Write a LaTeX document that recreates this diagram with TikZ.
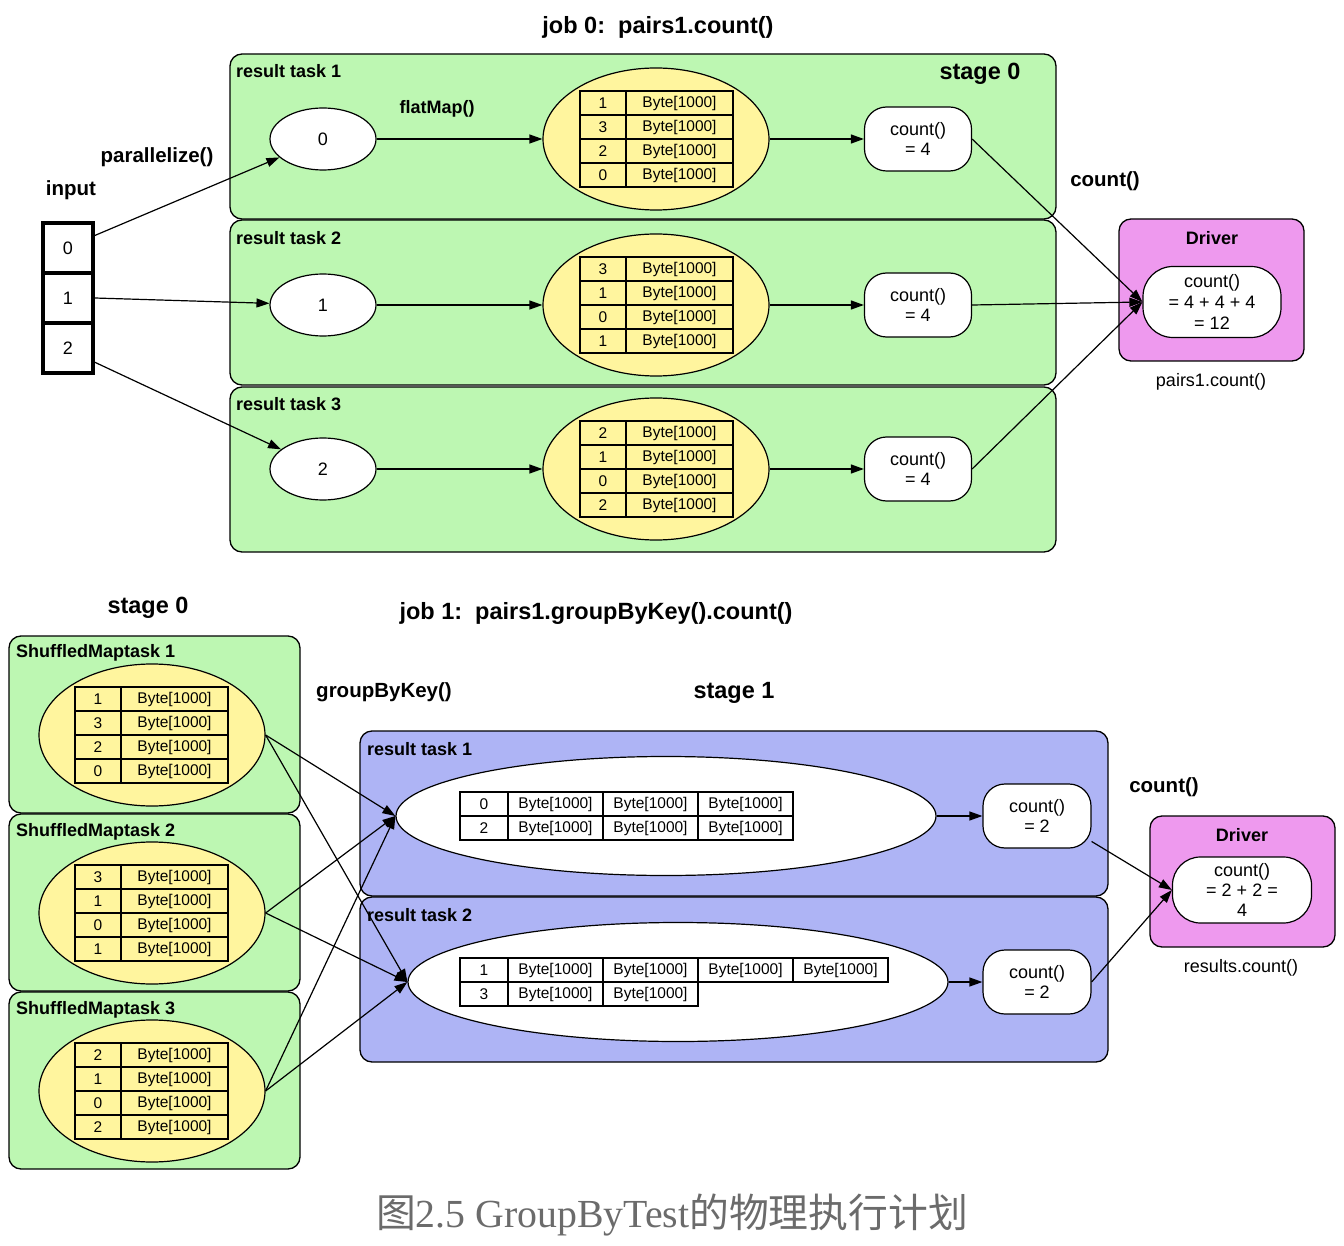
\documentclass[tikz,border=0pt]{standalone}
\usepackage{fontspec}
\setmainfont{Liberation Sans}
\newfontfamily\capserif{Liberation Serif}
\newfontfamily\cjk{Noto Sans CJK SC}
\usetikzlibrary{arrows.meta,shapes.geometric}
\definecolor{grn}{HTML}{BDF7B2}
\definecolor{blu}{HTML}{AEB4F5}
\definecolor{mag}{HTML}{EE99EE}
\definecolor{yel}{HTML}{FFF59E}
\definecolor{capgray}{HTML}{6B6B6B}
\newcommand{\fsz}[2]{\fontsize{#1}{#2}\selectfont}
\tikzset{
  cluster/.style={draw=black, line width=1.3pt, rounded corners=12pt, anchor=north west, inner sep=0pt, outer sep=0pt},
  grnbox/.style={cluster, fill=grn},
  blubox/.style={cluster, fill=blu},
  drvbox/.style={cluster, fill=mag},
  clab/.style={anchor=west, font=\bfseries\fsz{18}{20}, inner sep=0pt},
  elab/.style={font=\bfseries\fsz{20.5}{23}, inner sep=0pt},
  ttl/.style={font=\bfseries\fsz{23.5}{26}, inner sep=0pt},
  plaintxt/.style={font=\fsz{18}{21}, inner sep=0pt},
  smallell/.style={ellipse, draw, line width=1.2pt, fill=white, minimum width=106, minimum height=62, inner sep=0pt, font=\fsz{18}{21}},
  yelell/.style={ellipse, draw, line width=1.2pt, fill=yel, minimum width=226, minimum height=142, inner sep=0pt},
  whtell/.style={ellipse, draw, line width=1.2pt, fill=white, minimum height=119, inner sep=0pt},
  pill/.style={draw, line width=1.2pt, fill=white, rounded corners=22pt, minimum width=107, minimum height=64, align=center, font=\fsz{18}{20.5}, inner sep=0pt},
  tcell/.style={draw, line width=1.2pt, minimum height=24, inner sep=0pt, outer sep=0pt, font=\fsz{15.5}{18}},
  keycell/.style={tcell, minimum width=46},
  valcell/.style={tcell, minimum width=107},
  rkey/.style={tcell, minimum width=48},
  rval/.style={tcell, minimum width=95},
  incell/.style={draw, line width=3.5pt, minimum width=50, minimum height=50, inner sep=0pt, font=\fsz{18}{21}},
  arr/.style={-{Triangle[length=13pt,width=9pt]}, line width=1.2pt},
}
\newcommand{\mktab}[7]{%
  \foreach \kk [count=\ii] in {#4,#5,#6,#7} {
    \node[keycell, anchor=north west] (#1k\ii) at (#2,{#3+24*(\ii-1)}) {\kk};
    \node[valcell, anchor=west] (#1v\ii) at (#1k\ii.east) {Byte[1000]};
  }}
\newcommand{\mkrow}[5]{%
  \node[rkey, anchor=north west] (#1v0) at (#2,#3) {#4};
  \foreach \jj [evaluate=\jj as \pj using int(\jj-1)] in {1,...,#5} {
    \node[rval, anchor=west] (#1v\jj) at (#1v\pj.east) {Byte[1000]};
  }}
\begin{document}
\begin{tikzpicture}[x=1pt,y=-1pt]
\useasboundingbox (0,0) rectangle (1344,1246);
% ---------- job 0 ----------
\node[ttl] (t0) at (658,27) {job 0:\ \ pairs1.count()};
\node[grnbox, minimum width=826, minimum height=165] (rt1box) at (230,54) {};
\node[grnbox, minimum width=826, minimum height=165] (rt2box) at (230,220) {};
\node[grnbox, minimum width=826, minimum height=165] (rt3box) at (230,387) {};
\node[ttl] (s0) at (980,74) {stage 0};
\node[clab] (l1) at (236,71) {result task 1};
\node[clab] (l2) at (236,238) {result task 2};
\node[clab] (l3) at (236,404) {result task 3};
\node[elab] (inlab) at (71,190) {input};
\node[elab] (parlab) at (157,157) {parallelize()};
\node[clab, anchor=center] (fm) at (437,109) {flatMap()};
\node[elab] (cl0) at (1105,181) {count()};
\node[incell] (in0) at (68,248) {0};
\node[incell] (in1) at (68,298) {1};
\node[incell] (in2) at (68,348) {2};
\node[smallell] (e0) at (323,139) {0};
\node[smallell] (e1) at (323,305) {1};
\node[smallell] (e2) at (323,469) {2};
\node[yelell] (y0) at (656,139) {};
\node[yelell] (y1) at (656,305) {};
\node[yelell] (y2) at (656,469) {};
\mktab{a}{580}{91}{1}{3}{2}{0}
\mktab{b}{580}{257}{3}{1}{0}{1}
\mktab{c}{580}{421}{2}{1}{0}{2}
\node[pill] (c0) at (918,139) {count()\\= 4};
\node[pill] (c1) at (918,305) {count()\\= 4};
\node[pill] (c2) at (918,469) {count()\\= 4};
\node[drvbox, minimum width=185, minimum height=142] (drv) at (1119,219) {};
\node[clab, anchor=center] (drvlab) at (1212,238) {Driver};
\node[pill, minimum width=138, minimum height=71, rounded corners=30pt, font=\fsz{18}{21}] (dc) at (1212,302) {count()\\= 4 + 4 + 4\\= 12};
\node[plaintxt] (p1c) at (1211,382) {pairs1.count()};
\draw[arr] (in0.25) -- (e0);
\draw[arr] (in1.east) -- (e1);
\draw[arr] (in2.-28) -- (e2);
\draw[arr] (e0) -- (y0);
\draw[arr] (e1) -- (y1);
\draw[arr] (e2) -- (y2);
\draw[arr] (y0) -- (c0);
\draw[arr] (y1) -- (c1);
\draw[arr] (y2) -- (c2);
\draw[arr] (c0.east) -- (dc.west);
\draw[arr] (c1.east) -- (dc.west);
\draw[arr] (c2.east) -- (dc.west);
% ---------- job 1 ----------
\node[ttl] (s0b) at (148,608) {stage 0};
\node[ttl] (t1) at (596,613) {job 1:\ \ pairs1.groupByKey().count()};
\node[grnbox, minimum width=291, minimum height=177] (sm1box) at (9,636) {};
\node[grnbox, minimum width=291, minimum height=177] (sm2box) at (9,814) {};
\node[grnbox, minimum width=291, minimum height=177] (sm3box) at (9,992) {};
\node[clab] (sl1) at (16,653) {ShuffledMaptask 1};
\node[clab] (sl2) at (16,832) {ShuffledMaptask 2};
\node[clab] (sl3) at (16,1010) {ShuffledMaptask 3};
\node[yelell] (sm1) at (152,735) {};
\node[yelell] (sm2) at (152,913) {};
\node[yelell] (sm3) at (152,1091) {};
\mktab{d}{75}{687}{1}{3}{2}{0}
\mktab{e}{75}{865}{3}{1}{0}{1}
\mktab{f}{75}{1043}{2}{1}{0}{2}
\node[elab] (gbk) at (384,692) {groupByKey()};
\node[ttl] (s1) at (734,693) {stage 1};
\node[blubox, minimum width=748, minimum height=165] (rb1) at (360,731) {};
\node[blubox, minimum width=748, minimum height=165] (rb2) at (360,897) {};
\node[clab] (rl1) at (367,749) {result task 1};
\node[clab] (rl2) at (367,915) {result task 2};
\node[whtell, minimum width=540] (w1) at (666,816) {};
\node[whtell, minimum width=540] (w2) at (678,982) {};
\mkrow{g}{460}{792}{0}{3}
\mkrow{h}{460}{816}{2}{3}
\mkrow{i}{460}{958}{1}{4}
\mkrow{j}{460}{982}{3}{2}
\node[pill, minimum width=108] (bc1) at (1037,816) {count()\\= 2};
\node[pill, minimum width=108] (bc2) at (1037,982) {count()\\= 2};
\node[elab] (cl1) at (1164,787) {count()};
\node[drvbox, minimum width=185, minimum height=131] (bdrv) at (1150,816) {};
\node[clab, anchor=center] (bdrvlab) at (1242,835) {Driver};
\node[pill, minimum width=139, minimum height=66, rounded corners=28pt, font=\fsz{18}{20}] (bdi) at (1242,890) {count()\\= 2 + 2 =\\4};
\node[plaintxt] (rsc) at (1241,968) {results.count()};
\draw[arr] (sm1.east) -- (w1.west);
\draw[arr] (sm1.east) -- (w2.west);
\draw[arr] (sm2.east) -- (w1.west);
\draw[arr] (sm2.east) -- (w2.west);
\draw[arr] (sm3.east) -- (w1.west);
\draw[arr] (sm3.east) -- (w2.west);
\draw[arr] (w1) -- (bc1);
\draw[arr] (w2) -- (bc2);
\draw[arr] (bc1.-25) -- (bdi.west);
\draw[arr] (bc2.east) -- (bdi.west);
% ---------- caption ----------
\node[text=capgray, inner sep=0pt] (cap) at (672,1215) {\fsz{39.8}{42}\cjk 图\capserif 2.5 GroupByTest\cjk 的物理执行计划};
\end{tikzpicture}
\end{document}
